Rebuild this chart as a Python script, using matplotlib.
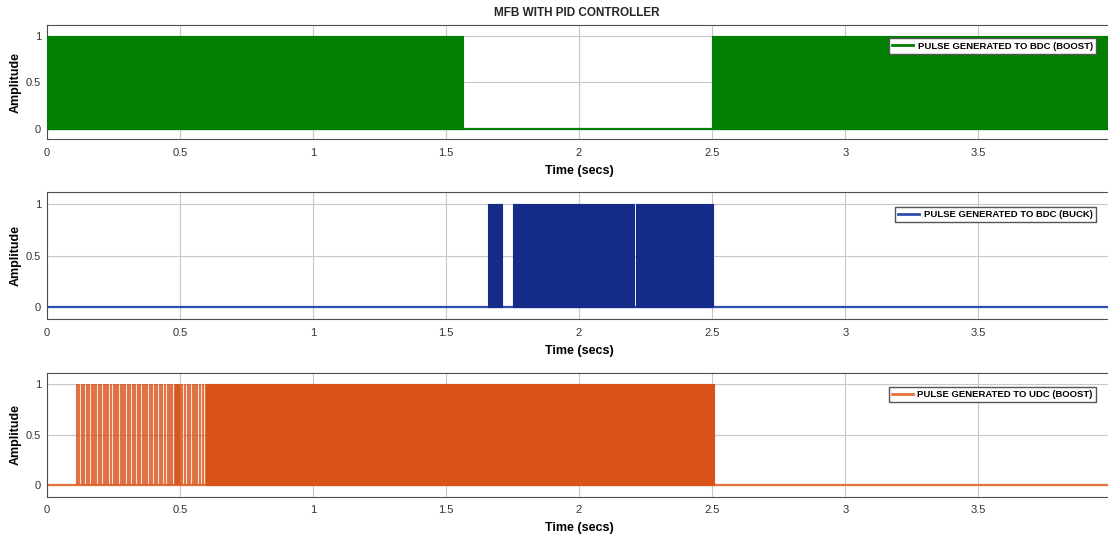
"""
MFB with PID controller – gate pulses for the three converters.
Dense PWM stretches are drawn as solid blocks, the sparse start-up pulses
of the UDC boost stage as individual lines.
"""

import matplotlib.pyplot as plt
import matplotlib.ticker as ticker

# ── Data (seconds) ───────────────────────────────────────────────────────────
T_SPAN = [0.0, 4.0]

# intervals where the switch is driven at full PWM rate
bdc_boost_blocks = [(0.0, 1.565), (2.498, 4.0)]
bdc_buck_blocks = [(1.657, 1.711), (1.753, 2.206), (2.213, 2.502)]
udc_boost_blocks = [(0.600, 2.507)]

# individual pulses during UDC boost start-up
udc_boost_pulses = [
    0.115, 0.123, 0.133, 0.142, 0.150, 0.160, 0.169, 0.178, 0.187, 0.196,
    0.205, 0.214, 0.223, 0.232, 0.242, 0.251, 0.259, 0.268, 0.278, 0.287,
    0.296, 0.306, 0.313, 0.323, 0.333, 0.342, 0.351, 0.361, 0.370, 0.378,
    0.389, 0.397, 0.407, 0.416, 0.426, 0.435, 0.444, 0.454, 0.464, 0.472,
    0.481, 0.485, 0.489, 0.493, 0.496, 0.500, 0.510, 0.520, 0.531, 0.539,
    0.548, 0.556, 0.566, 0.576, 0.586, 0.597,
]

panels = [
    ("PULSE GENERATED TO BDC (BOOST)", "#007f00", bdc_boost_blocks, []),
    ("PULSE GENERATED TO BDC (BUCK)", "#142b8a", bdc_buck_blocks, []),
    ("PULSE GENERATED TO UDC (BOOST)", "#d95319", udc_boost_blocks, udc_boost_pulses),
]
legend_colors = ["#007f00", "#2f4fb0", "#e8703a"]

TITLE = "MFB WITH PID CONTROLLER"
XTICKS = [0, 0.5, 1, 1.5, 2, 2.5, 3, 3.5, 4]
YTICKS = [0, 0.5, 1]

# ── Layout (figure fractions) ────────────────────────────────────────────────
W, H = 1108, 539
LEFT, WIDTH = 46.7 / W, 1064.7 / W
boxes = [  # (top px, bottom px)
    (25.0, 139.3),
    (192.3, 319.3),
    (372.7, 496.7),
]

plt.rcParams.update({
    "font.family": ["Liberation Sans", "DejaVu Sans"],
    "font.size": 8,
    "axes.linewidth": 0.8,
    "axes.edgecolor": "#4d4d4d",
    "xtick.color": "#4d4d4d",
    "ytick.color": "#4d4d4d",
    "xtick.labelcolor": "#333333",
    "ytick.labelcolor": "#333333",
})

fig = plt.figure(figsize=(W / 100, H / 100), dpi=100)

for (label, color, blocks, pulses), (top, bot), lc in zip(panels, boxes, legend_colors):
    ax = fig.add_axes([LEFT, (H - bot) / H, WIDTH, (bot - top) / H])

    # off-state baseline across the whole run
    ax.plot(T_SPAN, [0, 0], color=lc, lw=1.6, zorder=2)
    for a, b in blocks:
        ax.fill_between([a, b], 0, 1, color=color, lw=0.8, edgecolor=color, zorder=3)
    if pulses:
        ax.vlines(pulses, 0, 1, color=color, lw=1.6, alpha=0.8, zorder=3)

    ax.set_xlim(T_SPAN)
    ax.set_ylim(-0.115, 1.115)
    ax.xaxis.set_major_locator(ticker.FixedLocator(XTICKS))
    ax.yaxis.set_major_locator(ticker.FixedLocator(YTICKS))
    ax.xaxis.set_major_formatter(ticker.FuncFormatter(lambda v, _: f"{v:g}"))
    ax.yaxis.set_major_formatter(ticker.FuncFormatter(lambda v, _: f"{v:g}"))
    ax.tick_params(axis="x", length=0, pad=6, labelsize=8)
    ax.tick_params(axis="y", length=0, pad=4, labelsize=8)
    ax.grid(True, color="#c8c8c8", lw=0.8, zorder=0)
    ax.set_axisbelow(True)

    ax.set_xlabel("Time (secs)", fontsize=9, fontweight="bold", labelpad=5)
    ax.set_ylabel("Amplitude", fontsize=9, fontweight="bold", labelpad=3)

    handle = plt.Line2D([], [], color=lc, lw=2)
    ax.legend([handle], [label], loc="upper right", bbox_to_anchor=(0.99, 0.925),
              prop={"size": 6.8, "weight": "bold"}, frameon=True, fancybox=False,
              edgecolor="#555555", framealpha=1, handlelength=2.2,
              borderpad=0.35, handletextpad=0.5)

fig.text(0.521, 1 - 13 / H, TITLE, ha="center", va="center",
         fontsize=8.5, fontweight="bold", color="#262626")

fig.savefig("out.png", dpi=100)
